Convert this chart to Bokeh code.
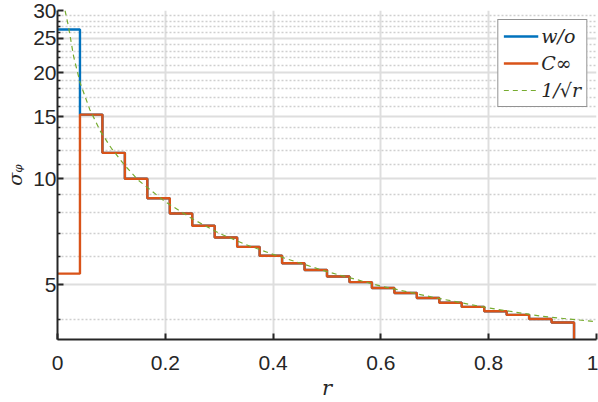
import numpy as np
from bokeh.plotting import figure
from bokeh.models import Range1d, FixedTicker, BasicTickFormatter
from bokeh.embed import file_html
from bokeh.resources import INLINE

# bin edges (24 equal bins over r in [0, 1])
r_edges = list(np.linspace(0.0, 1.0, 25))

# step values per bin
wo_vals = [26.5, 15.2, 11.84, 10.0, 8.8, 7.97, 7.36, 6.81, 6.41, 6.05, 5.76, 5.51,
           5.28, 5.09, 4.90, 4.74, 4.59, 4.45, 4.33, 4.21, 4.11, 4.00, 3.91, 1.0]
cinf_vals = [5.38, 15.2, 11.84, 10.0, 8.8, 7.97, 7.36, 6.81, 6.41, 6.05, 5.76, 5.51,
             5.28, 5.09, 4.90, 4.74, 4.59, 4.45, 4.33, 4.21, 4.11, 4.00, 3.91, 1.0]

# reference curve 1/sqrt(r)
ref_r = [0.014, 0.02, 0.03, 0.042, 0.06, 0.08, 0.1, 0.125, 0.15, 0.2, 0.25, 0.3,
         0.35, 0.4, 0.5, 0.6, 0.7, 0.8, 0.9, 1.0]
ref_v = [30.0, 27.2, 22.2, 18.7, 15.7, 13.6, 12.2, 10.9, 9.9, 8.6, 7.7, 7.0,
         6.5, 6.1, 5.45, 4.96, 4.6, 4.3, 4.07, 3.93]

x_ticks = [0, 0.2, 0.4, 0.6, 0.8, 1.0]
y_ticks = [5, 10, 15, 20, 25, 30]
y_minor = [v for v in range(4, 30) if v not in y_ticks]

p = figure(width=598, height=402, y_axis_type="log",
           x_range=Range1d(0, 1), y_range=Range1d(3.5, 30),
           output_backend="svg", toolbar_location=None,
           min_border_left=57, min_border_right=2, min_border_top=10, min_border_bottom=60)
p.outline_line_color = None
p.background_fill_color = "white"

# data
xs = r_edges
p.step(xs, wo_vals + [wo_vals[-1]], mode="after", line_color="#0072BD", line_width=2.4,
       legend_label="w/o")
p.step(xs, cinf_vals + [cinf_vals[-1]], mode="after", line_color="#D95319", line_width=2.4,
       legend_label="C\u221e")
p.line(ref_r, ref_v, line_color="#77AC30", line_width=1.2, line_dash="5 4",
       legend_label="1/\u221ar")

# axes
p.xaxis.ticker = FixedTicker(ticks=x_ticks, minor_ticks=[])
p.yaxis.ticker = FixedTicker(ticks=y_ticks, minor_ticks=y_minor)
p.yaxis.formatter = BasicTickFormatter()
for ax in (p.xaxis, p.yaxis):
    ax.axis_line_color = "#262626"
    ax.axis_line_width = 2
    ax.major_tick_line_color = "#262626"
    ax.major_tick_line_width = 2
    ax.minor_tick_line_color = "#262626"
    ax.minor_tick_line_width = 1.5
    ax.major_tick_in = 6
    ax.major_tick_out = 0
    ax.minor_tick_in = 3
    ax.minor_tick_out = 0
    ax.major_label_text_font = "Liberation Sans"
    ax.major_label_text_font_size = "21px"
    ax.major_label_text_color = "#262626"
    ax.axis_label_text_font = "DejaVu Serif"
    ax.axis_label_text_font_style = "italic"
    ax.axis_label_text_color = "#262626"
p.xaxis.major_label_standoff = 16
p.yaxis.major_label_standoff = 1

p.xaxis.axis_label = "r"
p.xaxis.axis_label_text_font_size = "21px"
p.xaxis.axis_label_standoff = 3
p.yaxis.axis_label = "\u03c3\u1d69"
p.yaxis.axis_label_text_font_size = "19px"
p.yaxis.axis_label_standoff = 4

# grids
p.xgrid.grid_line_color = "#dedede"
p.xgrid.grid_line_width = 2
p.ygrid.grid_line_color = "#dedede"
p.ygrid.grid_line_width = 2
p.ygrid.minor_grid_line_color = "#cfcfcf"
p.ygrid.minor_grid_line_width = 1.5
p.ygrid.minor_grid_line_dash = "2 2"

# legend
lg = p.legend[0]
lg.location = "top_right"
lg.margin = 9
lg.border_line_color = "#262626"
lg.border_line_width = 1.5
lg.background_fill_color = "white"
lg.background_fill_alpha = 1
lg.label_text_font = "DejaVu Serif"
lg.label_text_font_style = "italic"
lg.label_text_font_size = "19px"
lg.label_text_color = "#262626"
lg.glyph_width = 35
lg.glyph_height = 20
lg.label_standoff = 3
lg.spacing = 5
lg.padding = 5
lg.label_height = 20

open("out.html", "w").write(file_html(p, INLINE))
